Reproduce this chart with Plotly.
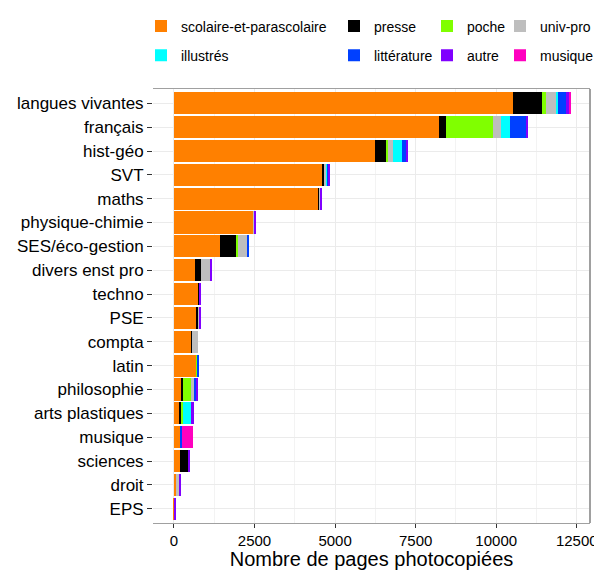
import plotly.graph_objects as go

categories = ["langues vivantes", "français", "hist-géo", "SVT", "maths", "physique-chimie",
              "SES/éco-gestion", "divers enst pro", "techno", "PSE", "compta", "latin",
              "philosophie", "arts plastiques", "musique", "sciences", "droit", "EPS"]

scolaire    = [10536, 8218, 6231, 4617, 4481, 2453, 1428, 652, 755, 714, 538, 703, 238, 176, 207, 176, 93, 20]
presse      = [891, 228, 352, 30, 31, 0, 507, 186, 31, 40, 31, 0, 40, 60, 0, 260, 0, 0]
poche       = [124, 1469, 62, 0, 0, 0, 40, 0, 0, 0, 0, 20, 280, 30, 0, 0, 0, 0]
univ_pro    = [289, 248, 165, 80, 40, 31, 290, 280, 0, 30, 185, 0, 50, 0, 0, 0, 60, 0]
illustres   = [83, 270, 270, 30, 0, 0, 0, 0, 0, 0, 0, 0, 0, 270, 0, 0, 0, 0]
litterature = [249, 497, 124, 40, 0, 0, 62, 0, 0, 0, 0, 55, 90, 0, 40, 0, 0, 0]
autre       = [103, 62, 62, 45, 40, 70, 0, 62, 50, 50, 0, 0, 30, 80, 0, 60, 62, 50]
musique     = [20, 0, 0, 0, 0, 0, 0, 0, 0, 0, 0, 0, 0, 0, 340, 0, 0, 0]

x_ticks = [0, 2500, 5000, 7500, 10000, 12500]
x_minor = [1250, 3750, 6250, 8750, 11250]

series = [
    ("scolaire-et-parascolaire", scolaire, "#FF8000", "legend"),
    ("presse", presse, "#000000", "legend2"),
    ("poche", poche, "#80FF00", "legend3"),
    ("univ-pro", univ_pro, "#BEBEBE", "legend4"),
    ("illustrés", illustres, "#00FFFF", "legend"),
    ("littérature", litterature, "#0040FF", "legend2"),
    ("autre", autre, "#8000FF", "legend3"),
    ("musique", musique, "#FF00BF", "legend4"),
]

FONT = "Liberation Sans, Arial, Helvetica, sans-serif"

fig = go.Figure()
for name, vals, color, leg in series:
    fig.add_trace(go.Bar(
        y=categories, x=vals, name=name, orientation="h",
        marker=dict(color=color, line=dict(width=0)),
        width=0.93, legend=leg, legendgroup=name,
    ))

# the page body adds an 8px offset; the figure is sized to compensate
OFF = 8
W, H = 602 - OFF, 570 - OFF
ml = 153 - OFF
mt = 89 - OFF
mr = W - (590 - OFF)
mb = H - (523 - OFF)
pw, ph = W - ml - mr, H - mt - mb

def px_x(px):
    return (px - ml) / pw

def px_y(py):
    return (H - mb - py) / ph

legend_common = dict(orientation="v", xanchor="left", yanchor="top",
                     font=dict(family=FONT, size=14, color="#000000"),
                     bgcolor="rgba(0,0,0,0)", tracegroupgap=8, itemwidth=30)
legend_y = px_y(2.5)

fig.update_layout(
    width=W, height=H,
    margin=dict(l=ml, r=mr, t=mt, b=mb, autoexpand=False),
    barmode="stack",
    plot_bgcolor="white", paper_bgcolor="white",
    font=dict(family=FONT, color="#000000"),
    legend=dict(x=px_x(181 - OFF - 40), y=legend_y, **legend_common),
    legend2=dict(x=px_x(374 - OFF - 40), y=legend_y, **legend_common),
    legend3=dict(x=px_x(467 - OFF - 40), y=legend_y, **legend_common),
    legend4=dict(x=px_x(540 - OFF - 40), y=legend_y, **legend_common),
    xaxis=dict(
        range=[-650, 12910], tickvals=x_ticks, tickformat="d",
        showgrid=True, gridcolor="#EBEBEB", gridwidth=1,
        minor=dict(tickvals=x_minor, showgrid=True, gridcolor="#F3F3F3", gridwidth=1),
        zeroline=False,
        showline=True, mirror=True, linecolor="#A0A0A0", linewidth=1,
        ticks="outside", ticklen=4, tickcolor="#333333", tickwidth=1,
        tickfont=dict(family=FONT, size=15, color="#000000"),
        title=dict(text="Nombre de pages photocopiées",
                   font=dict(family=FONT, size=20, color="#000000"), standoff=3),
    ),
    yaxis=dict(
        categoryorder="array", categoryarray=categories,
        range=[17.6, -0.6],
        showgrid=True, gridcolor="#EBEBEB", gridwidth=1,
        showline=False, zeroline=False,
        ticks="outside", ticklen=5, tickcolor="#333333", tickwidth=1,
        tickfont=dict(family=FONT, size=17, color="#000000"),
    ),
)

fig.add_shape(type="line", xref="paper", yref="paper", x0=1, x1=1, y0=0, y1=1,
              line=dict(color="#A0A0A0", width=2))

fig.write_html("out.html")
